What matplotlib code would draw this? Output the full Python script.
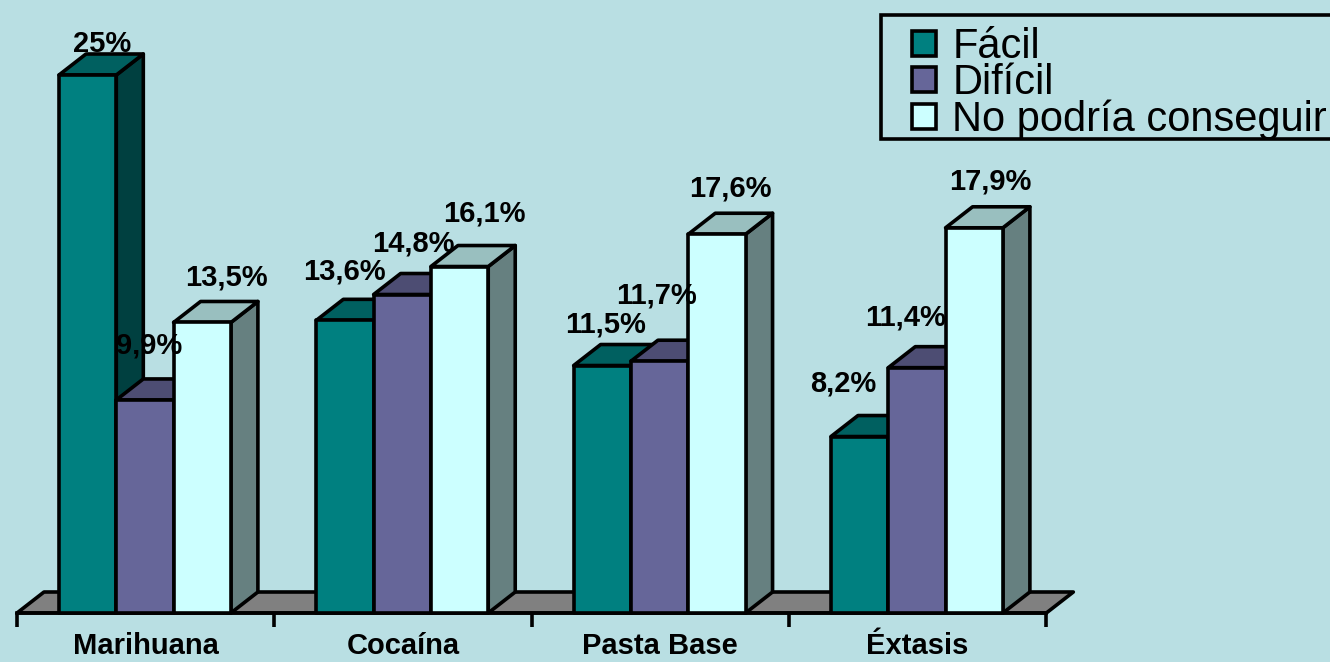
import matplotlib
matplotlib.use("Agg")
import matplotlib.pyplot as plt
from matplotlib.patches import Patch, Polygon, Rectangle

plt.rcParams["font.family"] = ["Liberation Sans", "DejaVu Sans"]

categories = ["Marihuana", "Cocaína", "Pasta Base", "Éxtasis"]
series = ["Fácil", "Difícil", "No podría conseguir"]
facil = [25, 13.6, 11.5, 8.2]
dificil = [9.9, 14.8, 11.7, 11.4]
no_podria = [13.5, 16.1, 17.6, 17.9]
values = [facil, dificil, no_podria]
labels = [["25%", "13,6%", "11,5%", "8,2%"],
          ["9,9%", "14,8%", "11,7%", "11,4%"],
          ["13,5%", "16,1%", "17,6%", "17,9%"]]

# label offsets from bar top centre, in pixels (hand placed like the original)
label_dx = [[14, -1, 3, -16], [4, 11, -3, -11], [24, 25, 13, 16]]
label_dy = [[31, 49, 41, 53], [54, 51, 66, 50], [45, 53, 46, 46]]

front = ["#008080", "#666699", "#CCFFFF"]
top = ["#006060", "#4D4D73", "#99BFBF"]
side = ["#004040", "#333350", "#668080"]
bg = "#B9DFE3"

W, H = 1330, 662
PITCH = 257.33      # px per category
UNIT = 21.52        # px per percent
X0, Y0 = 17, 613    # pixel position of the axis origin

fig = plt.figure(figsize=(W / 100, H / 100), dpi=100, facecolor=bg)
ax = fig.add_axes([0, 0, 1, 1], facecolor=bg)
ax.set_xlim(-X0 / PITCH, (W - X0) / PITCH)
ax.set_ylim(-(H - Y0) / UNIT, Y0 / UNIT)
ax.axis("off")

dx = 27 / PITCH
dy = 21 / UNIT
bar_w = 57.3 / PITCH
start = 42 / PITCH
n = len(categories)
LW = 2.6


def poly(pts, color, z):
    ax.add_patch(Polygon(pts, closed=True, facecolor=color, edgecolor="black",
                         linewidth=LW, joinstyle="round", zorder=z))


# floor
poly([(0, 0), (dx, dy), (n + dx, dy), (n, 0)], "#808080", 1)
# axis line and ticks
ax.plot([0, n], [0, 0], color="black", lw=LW, zorder=2)
for i in range(n + 1):
    ax.plot([i, i], [0, -14 / UNIT], color="black", lw=LW, zorder=2,
            solid_capstyle="butt")

z = 3
for i in range(n):
    for j in range(3):
        x = i + start + j * bar_w
        v = values[j][i]
        poly([(x + bar_w, 0), (x + bar_w + dx, dy), (x + bar_w + dx, v + dy), (x + bar_w, v)], side[j], z)
        poly([(x, v), (x + dx, v + dy), (x + bar_w + dx, v + dy), (x + bar_w, v)], top[j], z)
        poly([(x, 0), (x, v), (x + bar_w, v), (x + bar_w, 0)], front[j], z)
        z += 1

for i in range(n):
    for j in range(3):
        x = i + start + (j + 0.5) * bar_w
        ax.annotate(labels[j][i], (x, values[j][i]), xytext=(label_dx[j][i], label_dy[j][i]),
                    textcoords="offset pixels", ha="center", va="center",
                    fontsize=21, fontweight="bold", color="black", zorder=50)

for i, c in enumerate(categories):
    ax.text(i + 0.5, -(646 - Y0) / UNIT, c, ha="center", va="center",
            fontsize=21, fontweight="bold", color="black")

# legend box runs off the right edge of the figure
ax.add_patch(Rectangle((881 / W, 1 - 139 / H), 500 / W, 124 / H, transform=ax.transAxes,
                       facecolor=bg, edgecolor="black", linewidth=LW,
                       clip_on=True, zorder=55))
handles = [Patch(facecolor=front[j], edgecolor="black", linewidth=LW) for j in range(3)]
leg = ax.legend(handles, series, loc="upper left", bbox_to_anchor=(912 / W, 1 - 27 / H),
                fontsize=30, frameon=False, borderaxespad=0, borderpad=0,
                labelspacing=-0.09, handlelength=0.58, handleheight=0.55,
                handletextpad=0.39)
leg.set_zorder(60)

fig.savefig("out.png", dpi=100, facecolor=bg)
